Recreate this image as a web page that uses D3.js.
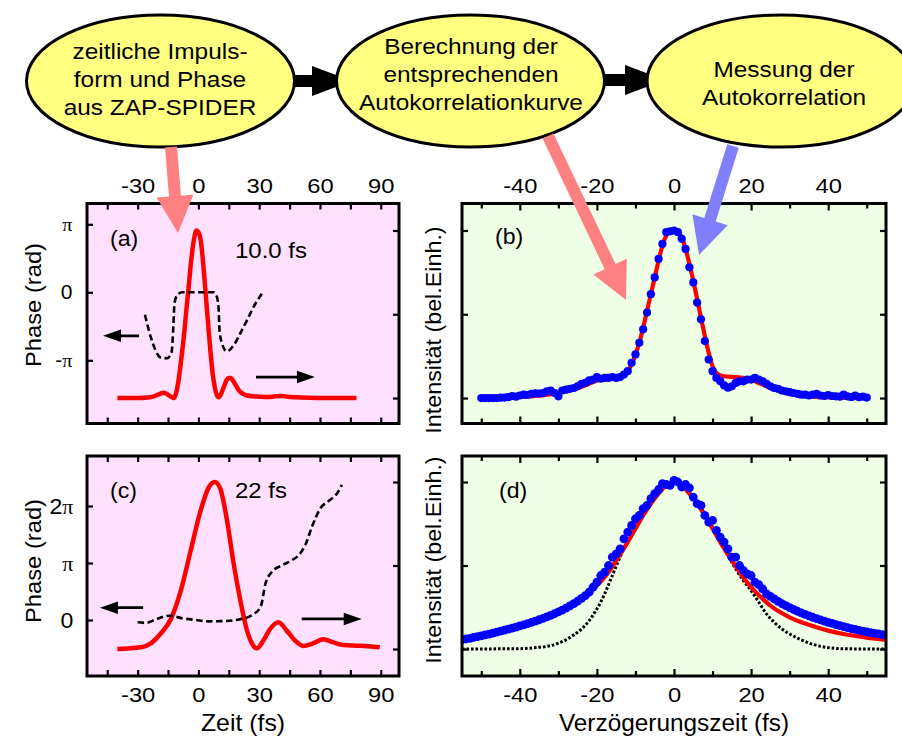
<!DOCTYPE html>
<html>
<head>
<meta charset="utf-8">
<script src="https://cdn.jsdelivr.net/npm/d3@7"></script>
<style>
  body { margin: 0; background: #fff; }
  svg text { font-family: "Liberation Sans", Arial, Helvetica, sans-serif; fill: #000; }
</style>
</head>
<body>
<svg id="fig" width="902" height="738"></svg>
<script>
// ---------------- data ----------------
// flow diagram steps
const flowSteps = [
  ["zeitliche Impuls-", "form und Phase", "aus ZAP-SPIDER"],
  ["Berechnung der", "entsprechenden", "Autokorrelationkurve"],
  ["Messung der", "Autokorrelation"]
];

// (a) short pulse: temporal intensity (norm.) and phase (units of pi)
const timeA = [-40,-30,-25,-22,-19,-17,-15,-13,-12,-11,-10,-9,-8,-7,-6,-5,-4,-3,-2,-1,0,1,2,3,4,5,6,7,8,9,10,11,12,13,14,15,16,17,18,19,20,22,24,27,30,34,38,41,44,48,55,65,78];
const intensityA = [0,0,0.003,0.01,0.025,0.032,0.02,0.005,0,0.03,0.09,0.18,0.28,0.39,0.52,0.64,0.77,0.88,0.96,1.0,0.99,0.95,0.85,0.71,0.56,0.41,0.27,0.15,0.07,0.02,0.005,0.02,0.05,0.08,0.11,0.12,0.12,0.105,0.085,0.065,0.045,0.025,0.015,0.01,0.008,0.006,0.01,0.012,0.008,0.005,0.002,0,0];
const phaseTimeA = [-26.4,-23.6,-21.2,-18.6,-15.4,-13.2,-12.4,-11.8,-10.5,-8,-5,0,5,7.5,8.8,9.9,10.4,11.6,14,17.4,20.7,24,27.3,31.4];
const phaseA = [-0.33,-0.65,-0.85,-0.96,-0.97,-0.87,-0.51,-0.16,-0.04,0,0,0,0,0,-0.04,-0.21,-0.56,-0.75,-0.87,-0.78,-0.6,-0.41,-0.21,-0.015];

// (c) longer pulse
const timeC = [-40,-35,-28.4,-23.5,-18.5,-13.6,-8.7,-3.8,1.1,5.2,8.1,10.8,14.1,17.4,20.7,24,26.4,28.9,32.2,35.4,39.5,43.6,47.7,51.8,56.7,61.6,66.6,71.5,79.7,89.5];
const intensityC = [0,0.003,0.01,0.034,0.094,0.18,0.35,0.59,0.83,0.97,1.0,0.96,0.77,0.51,0.29,0.11,0.034,0.004,0.054,0.12,0.16,0.11,0.05,0.018,0.034,0.058,0.04,0.024,0.02,0.01];
const phaseTimeC = [-30,-25.9,-21,-14.4,-7.9,-1.3,5.2,11.8,20,26.6,30.7,33.1,36.4,41.3,46.2,50.3,52.8,56.1,60.2,64.3,68.4,70.8];
const phaseC = [-0.04,-0.05,0.01,0.076,0.03,0,-0.023,-0.02,0.01,0.09,0.23,0.64,0.85,0.96,1.05,1.17,1.32,1.64,1.96,2.09,2.22,2.37];

// (b) autocorrelation of the short pulse: measured points and calculated curve
const delayB = [-50,-49,-48,-47,-46,-45,-44,-43,-42,-41,-40,-39,-38,-37,-36,-35,-34,-33,-32,-31,-30,-29,-28,-27,-26,-25,-24,-23,-22,-21,-20,-19,-18,-17,-16,-15,-14,-13,-12,-11,-10,-9,-8,-7,-6,-5,-4,-3,-2,-1,0,1,2,3,4,5,6,7,8,9,10,11,12,13,14,15,16,17,18,19,20,21,22,23,24,25,26,27,28,29,30,31,32,33,34,35,36,37,38,39,40,41,42,43,44,45,46,47,48,49,50];
const measuredB = [0,0,0,0,0,0.002,0.003,0.005,0.012,0.008,0.015,0.02,0.018,0.025,0.028,0.027,0.03,0.04,0.045,0.03,0.01,0.045,0.05,0.055,0.06,0.07,0.085,0.09,0.105,0.11,0.125,0.115,0.12,0.12,0.125,0.12,0.125,0.14,0.16,0.21,0.26,0.33,0.41,0.51,0.62,0.72,0.83,0.92,0.99,0.995,1.0,0.99,0.95,0.89,0.78,0.69,0.57,0.47,0.34,0.23,0.16,0.12,0.1,0.075,0.062,0.07,0.09,0.1,0.1,0.11,0.11,0.12,0.11,0.1,0.085,0.07,0.06,0.055,0.045,0.04,0.035,0.03,0.025,0.02,0.02,0.015,0.02,0.025,0.015,0.012,0.018,0.012,0.01,0.008,0.02,0.01,0.005,0.015,0.005,0.008,0.003];
const calcDelayB = [-50,-45,-40,-35,-30,-27,-25,-22,-20,-18,-16,-14,-13,-12,-11,-10,-9,-8,-7,-6,-5,-4,-3,-2,-1,0,1,2,3,4,5,6,7,8,9,10,11,12,13,14,16,18,20,22,24,26,28,30,35,40,45,50];
const calcB = [0,0.002,0.006,0.014,0.03,0.045,0.058,0.085,0.105,0.12,0.128,0.135,0.145,0.165,0.2,0.26,0.33,0.42,0.52,0.62,0.72,0.82,0.91,0.97,0.995,1.0,0.99,0.96,0.89,0.8,0.7,0.59,0.48,0.37,0.27,0.19,0.15,0.135,0.13,0.128,0.125,0.12,0.11,0.09,0.07,0.05,0.036,0.025,0.01,0.004,0.001,0];

// (d) autocorrelation of the longer pulse
const delayD = [-55,-54,-53,-52,-51,-50,-49,-48,-47,-46,-45,-44,-43,-42,-41,-40,-39,-38,-37,-36,-35,-34,-33,-32,-31,-30,-29,-28,-27,-26,-25,-24,-23,-22,-21,-20,-19,-18,-17,-16,-15,-14,-13,-12,-11,-10,-9,-8,-7,-6,-5,-4,-3,-2,-1,0,1,2,3,4,5,6,7,8,9,10,11,12,13,14,15,16,17,18,19,20,21,22,23,24,25,26,27,28,29,30,31,32,33,34,35,36,37,38,39,40,41,42,43,44,45,46,47,48,49,50,51,52,53,54,55];
const measuredD = [0.056,0.06,0.064,0.069,0.074,0.079,0.084,0.089,0.095,0.101,0.107,0.113,0.119,0.125,0.131,0.138,0.145,0.152,0.159,0.167,0.175,0.183,0.192,0.201,0.211,0.222,0.233,0.245,0.258,0.272,0.287,0.303,0.32,0.34,0.37,0.4,0.44,0.46,0.5,0.55,0.57,0.6,0.66,0.7,0.74,0.78,0.8,0.84,0.86,0.9,0.93,0.955,0.99,0.985,0.98,1.01,1.0,0.97,0.985,0.965,0.91,0.87,0.86,0.8,0.76,0.77,0.71,0.67,0.64,0.6,0.55,0.55,0.5,0.47,0.45,0.44,0.4,0.385,0.36,0.33,0.315,0.3,0.285,0.272,0.26,0.248,0.237,0.226,0.216,0.207,0.198,0.19,0.182,0.174,0.167,0.16,0.153,0.146,0.14,0.134,0.128,0.122,0.117,0.112,0.107,0.102,0.098,0.094,0.09,0.086,0.082];
const calcDelayD = [-55,-50,-45,-40,-35,-30,-25,-20,-17,-15,-12,-10,-8,-6,-4,-2,0,2,4,6,8,10,12,15,17,20,23,25,30,35,40,45,50,55];
const calcD = [0.055,0.075,0.1,0.13,0.17,0.22,0.285,0.38,0.46,0.53,0.64,0.72,0.8,0.87,0.93,0.98,1.0,0.98,0.93,0.87,0.8,0.72,0.64,0.53,0.46,0.37,0.3,0.26,0.19,0.145,0.11,0.085,0.068,0.055];
const flatDelayD = [-55,-45,-40,-38,-35,-32,-30,-28,-26,-24,-22,-20,-18,-16,-14,-12,-10,-8,-6,-4,-2,0,2,4,6,8,10,12,14,16,18,20,22,24,26,28,30,33,36,40,45,55];
const flatD = [0,0.001,0.002,0.004,0.01,0.02,0.035,0.055,0.085,0.12,0.17,0.24,0.33,0.44,0.55,0.65,0.73,0.81,0.88,0.94,0.985,1.0,0.985,0.94,0.88,0.81,0.73,0.65,0.56,0.48,0.41,0.35,0.28,0.21,0.16,0.12,0.09,0.055,0.028,0.008,0.001,0];

// tick values and labels
const timeTicks = [-30, 0, 30, 60, 90];
const timeMinorTicks = [-45, -15, 15, 45, 75];
const delayTicks = [-40, -20, 0, 20, 40];
const delayMinorTicks = [-50, -30, -10, 10, 30, 50];
const phaseTicksA = [-1, 0, 1];
const phaseLabelsA = ["-π", "0", "π"];
const phaseTicksC = [0, 1, 2];
const phaseLabelsC = ["0", "π", "2π"];
const intensityTicks = [0, 0.5, 1];

// ---------------- drawing ----------------
const svg = d3.select("#fig");
const SANS = '"Liberation Sans", Arial, Helvetica, sans-serif';
const SERIF = '"Liberation Serif", "Times New Roman", serif';

// text that is drawn slightly wider than the regular face
function wideText(g, x, y, str, size, opt = {}) {
  const sx = opt.sx || 1.1, anchor = opt.anchor || "middle", rot = opt.rotate || 0;
  return g.append("text")
    .attr("transform", `translate(${x},${y}) rotate(${rot}) scale(${sx},1)`)
    .attr("text-anchor", anchor)
    .attr("font-size", size)
    .text(str);
}

// block arrow outline from (x1,y1) to tip (x2,y2)
function blockArrow(g, x1, y1, x2, y2, sw, hl, hw, fill) {
  const dx = x2 - x1, dy = y2 - y1, len = Math.hypot(dx, dy);
  const ux = dx / len, uy = dy / len, px = -uy, py = ux;
  const bx = x2 - ux * hl, by = y2 - uy * hl;
  const pts = [
    [x1 + px * sw / 2, y1 + py * sw / 2], [bx + px * sw / 2, by + py * sw / 2],
    [bx + px * hw / 2, by + py * hw / 2], [x2, y2],
    [bx - px * hw / 2, by - py * hw / 2], [bx - px * sw / 2, by - py * sw / 2],
    [x1 - px * sw / 2, y1 - py * sw / 2]
  ];
  g.append("polygon").attr("points", pts.map(p => p.join(",")).join(" ")).attr("fill", fill);
}

// ---- flow diagram ----
const flow = svg.append("g");
const ellipseCx = [160.5, 470.5, 781], ellipseCy = 81, rx = 134, ry = 66;
const textCx = [160, 471, 784], textMid = [87.3, 81.7, 91.2];
blockArrow(flow, 292, 81, 352, 81, 12, 40, 30, "#000");
blockArrow(flow, 601, 80, 665, 80, 12, 40, 30, "#000");
flowSteps.forEach((lines, i) => {
  flow.append("ellipse").attr("cx", ellipseCx[i]).attr("cy", ellipseCy)
    .attr("rx", rx).attr("ry", ry)
    .attr("fill", "#FFFF80").attr("stroke", "#000").attr("stroke-width", 3);
  const n = lines.length;
  lines.forEach((ln, j) => {
    wideText(flow, textCx[i], textMid[i] + (j - (n - 1) / 2) * 28, ln, 22, { sx: 1.11 });
  });
});

// ---- panels ----
const xTime = d3.scaleLinear().domain([-55, 99]).range([87, 399]);
const xDelay = d3.scaleLinear().domain([-55, 55]).range([462, 886]);
const yPhaseA = d3.scaleLinear().domain([-1.929, 1.306]).range([423.5, 203.5]);
const yIntTop = d3.scaleLinear().domain([-0.152, 1.161]).range([423.5, 203.5]);
const yPhaseC = d3.scaleLinear().domain([-0.982, 2.877]).range([676, 456]);
const yIntBot = d3.scaleLinear().domain([-0.1617, 1.1557]).range([676, 456]);

const PINK = "#FFE0FF", GREEN = "#EEFFE6";

let clipId = 0;
function panel(x, y, bg) {
  const [x0, x1] = x.range(), [y1, y0] = y.range();
  const g = svg.append("g");
  g.append("rect").attr("x", x0).attr("y", y0).attr("width", x1 - x0).attr("height", y1 - y0)
    .attr("fill", bg);
  const id = "clip" + (clipId++);
  svg.append("clipPath").attr("id", id).append("rect")
    .attr("x", x0).attr("y", y0).attr("width", x1 - x0).attr("height", y1 - y0);
  const plot = g.append("g").attr("clip-path", `url(#${id})`);
  return { g, plot, x0, x1, y0, y1 };
}
function frame(p) {
  p.g.append("rect").attr("x", p.x0).attr("y", p.y0)
    .attr("width", p.x1 - p.x0).attr("height", p.y1 - p.y0)
    .attr("fill", "none").attr("stroke", "#000").attr("stroke-width", 3);
}

function axis(g, orient, scale, values, at, opt = {}) {
  const size = opt.size || 6;
  const gen = orient(scale).tickValues(values).tickSizeInner(-size).tickSizeOuter(0)
    .tickPadding(opt.pad || 11)
    .tickFormat(opt.labels ? (d, i) => opt.labels[i] : () => "");
  const ax = g.append("g").attr("transform", at).call(gen)
    .attr("font-family", SANS).attr("font-size", opt.fontSize || 21);
  ax.select(".domain").remove();
  ax.selectAll(".tick line").attr("stroke", "#000").attr("stroke-width", 2.2);
  ax.selectAll(".tick text").attr("fill", "#000");
  if (opt.labels) {
    ax.selectAll(".tick text").each(function (d, i) {
      const t = d3.select(this);
      const s = opt.labels[i];
      t.text(null).attr("transform", `scale(${opt.sx || 1.13},1)`);
      for (const ch of s.split(/(π)/).filter(c => c.length)) {
        const ts = t.append("tspan").text(ch);
        if (ch === "π") ts.attr("font-family", SERIF).attr("font-size", (opt.fontSize || 21) * 0.95);
      }
    });
  }
  return ax;
}

const lineOf = (x, y) => d3.line().x(d => x(d[0])).y(d => y(d[1])).curve(d3.curveMonotoneX);
const zip = (a, b) => a.map((v, i) => [v, b[i]]);

// small pointer arrow (data coordinates)
function pointer(g, x1, y1, x2, y2) {
  blockArrow(g, x1, y1, x2, y2, 2.8, 18, 12.5, "#000");
}

// (a)
const pa = panel(xTime, yPhaseA, PINK);
pa.plot.append("path").datum(zip(timeA, intensityA)).attr("d", lineOf(xTime, yIntTop))
  .attr("fill", "none").attr("stroke", "#FF0000").attr("stroke-width", 4.5).attr("stroke-linejoin", "round");
pa.plot.append("path").datum(zip(phaseTimeA, phaseA)).attr("d", lineOf(xTime, yPhaseA))
  .attr("fill", "none").attr("stroke", "#000").attr("stroke-width", 2.6).attr("stroke-dasharray", "6.5 3.5");
pointer(pa.g, xTime(-29.3), yPhaseA(-0.64), xTime(-47.1), yPhaseA(-0.64));
pointer(pa.g, xTime(28.4), yIntTop(0.125), xTime(57.5), yIntTop(0.125));
frame(pa);
axis(pa.g, d3.axisTop, xTime, timeTicks, `translate(0,${pa.y0})`, { labels: timeTicks.map(String) });
axis(pa.g, d3.axisTop, xTime, timeMinorTicks, `translate(0,${pa.y0})`);
axis(pa.g, d3.axisBottom, xTime, timeTicks.concat(timeMinorTicks), `translate(0,${pa.y1})`);
axis(pa.g, d3.axisLeft, yPhaseA, phaseTicksA, `translate(${pa.x0},0)`, { labels: phaseLabelsA, fontSize: 20, pad: 14, sx: 1.05 });
axis(pa.g, d3.axisRight, yIntTop, intensityTicks, `translate(${pa.x1},0)`);
wideText(pa.g, 110, 246, "(a)", 22, { anchor: "start", sx: 1.05 });
wideText(pa.g, 235, 258, "10.0 fs", 22, { anchor: "start", sx: 1.09 });

// (b)
const pb = panel(xDelay, yIntTop, GREEN);
pb.plot.append("path").datum(zip(calcDelayB, calcB)).attr("d", lineOf(xDelay, yIntTop))
  .attr("fill", "none").attr("stroke", "#FF0000").attr("stroke-width", 4.2).attr("stroke-linejoin", "round");
pb.plot.selectAll("circle").data(zip(delayB, measuredB)).join("circle")
  .attr("cx", d => xDelay(d[0])).attr("cy", d => yIntTop(d[1])).attr("r", 4.1).attr("fill", "#0000FF");
frame(pb);
axis(pb.g, d3.axisTop, xDelay, delayTicks, `translate(0,${pb.y0})`, { labels: delayTicks.map(String), size: 7 });
axis(pb.g, d3.axisTop, xDelay, delayMinorTicks, `translate(0,${pb.y0})`, { size: 5 });
axis(pb.g, d3.axisBottom, xDelay, delayTicks, `translate(0,${pb.y1})`, { size: 7 });
axis(pb.g, d3.axisBottom, xDelay, delayMinorTicks, `translate(0,${pb.y1})`, { size: 5 });
axis(pb.g, d3.axisLeft, yIntTop, intensityTicks, `translate(${pb.x0},0)`);
axis(pb.g, d3.axisRight, yIntTop, intensityTicks, `translate(${pb.x1},0)`);
wideText(pb.g, 495, 244, "(b)", 22, { anchor: "start", sx: 1.05 });

// (c)
const pc = panel(xTime, yPhaseC, PINK);
pc.plot.append("path").datum(zip(timeC, intensityC)).attr("d", lineOf(xTime, yIntBot))
  .attr("fill", "none").attr("stroke", "#FF0000").attr("stroke-width", 4.5).attr("stroke-linejoin", "round");
pc.plot.append("path").datum(zip(phaseTimeC, phaseC)).attr("d", lineOf(xTime, yPhaseC))
  .attr("fill", "none").attr("stroke", "#000").attr("stroke-width", 2.6).attr("stroke-dasharray", "6.5 3.5");
pointer(pc.g, xTime(-27.3), yPhaseC(0.216), xTime(-48.6), yPhaseC(0.216));
pointer(pc.g, xTime(51), yIntBot(0.18), xTime(80.6), yIntBot(0.18));
frame(pc);
axis(pc.g, d3.axisTop, xTime, timeTicks.concat(timeMinorTicks), `translate(0,${pc.y0})`);
axis(pc.g, d3.axisBottom, xTime, timeTicks, `translate(0,${pc.y1})`, { labels: timeTicks.map(String) });
axis(pc.g, d3.axisBottom, xTime, timeMinorTicks, `translate(0,${pc.y1})`);
axis(pc.g, d3.axisLeft, yPhaseC, phaseTicksC, `translate(${pc.x0},0)`, { labels: phaseLabelsC, fontSize: 22, pad: 13, sx: 1.05 });
axis(pc.g, d3.axisRight, yIntBot, intensityTicks, `translate(${pc.x1},0)`);
wideText(pc.g, 110, 498, "(c)", 22, { anchor: "start", sx: 1.05 });
wideText(pc.g, 235, 498, "22 fs", 22, { anchor: "start", sx: 1.09 });

// (d)
const pd = panel(xDelay, yIntBot, GREEN);
pd.plot.append("path").datum(zip(flatDelayD, flatD)).attr("d", lineOf(xDelay, yIntBot))
  .attr("fill", "none").attr("stroke", "#000").attr("stroke-width", 3).attr("stroke-dasharray", "2.6 1.9");
pd.plot.append("path").datum(zip(calcDelayD, calcD)).attr("d", lineOf(xDelay, yIntBot))
  .attr("fill", "none").attr("stroke", "#FF0000").attr("stroke-width", 4.2).attr("stroke-linejoin", "round");
pd.plot.selectAll("circle").data(zip(delayD, measuredD)).join("circle")
  .attr("cx", d => xDelay(d[0])).attr("cy", d => yIntBot(d[1])).attr("r", 4.4).attr("fill", "#0000FF");
frame(pd);
axis(pd.g, d3.axisTop, xDelay, delayTicks, `translate(0,${pd.y0})`, { size: 7 });
axis(pd.g, d3.axisTop, xDelay, delayMinorTicks, `translate(0,${pd.y0})`, { size: 5 });
axis(pd.g, d3.axisBottom, xDelay, delayTicks, `translate(0,${pd.y1})`, { labels: delayTicks.map(String), size: 7 });
axis(pd.g, d3.axisBottom, xDelay, delayMinorTicks, `translate(0,${pd.y1})`, { size: 5 });
axis(pd.g, d3.axisLeft, yIntBot, intensityTicks, `translate(${pd.x0},0)`);
axis(pd.g, d3.axisRight, yIntBot, intensityTicks, `translate(${pd.x1},0)`);
wideText(pd.g, 499, 498, "(d)", 22, { anchor: "start", sx: 1.05 });

// axis titles
const titles = svg.append("g");
wideText(titles, 41, 305, "Phase (rad)", 22, { rotate: -90, sx: 1.08 });
wideText(titles, 41, 561, "Phase (rad)", 22, { rotate: -90, sx: 1.08 });
wideText(titles, 441, 330, "Intensität (bel.Einh.)", 22, { rotate: -90, sx: 1.06 });
wideText(titles, 441, 560, "Intensität (bel.Einh.)", 22, { rotate: -90, sx: 1.06 });
wideText(titles, 243, 731, "Zeit (fs)", 23, { sx: 1.08 });
wideText(titles, 674, 731, "Verzögerungszeit (fs)", 23, { sx: 1.06 });

// pointers from the flow diagram into the panels
const over = svg.append("g");
blockArrow(over, 171, 147, 178, 233, 12, 37, 37, "#FF8080");
blockArrow(over, 548, 136, 626, 300, 12, 37, 37, "#FF8080");
blockArrow(over, 733, 146, 699, 255, 12, 37, 37, "#8080FF");
</script>
</body>
</html>
